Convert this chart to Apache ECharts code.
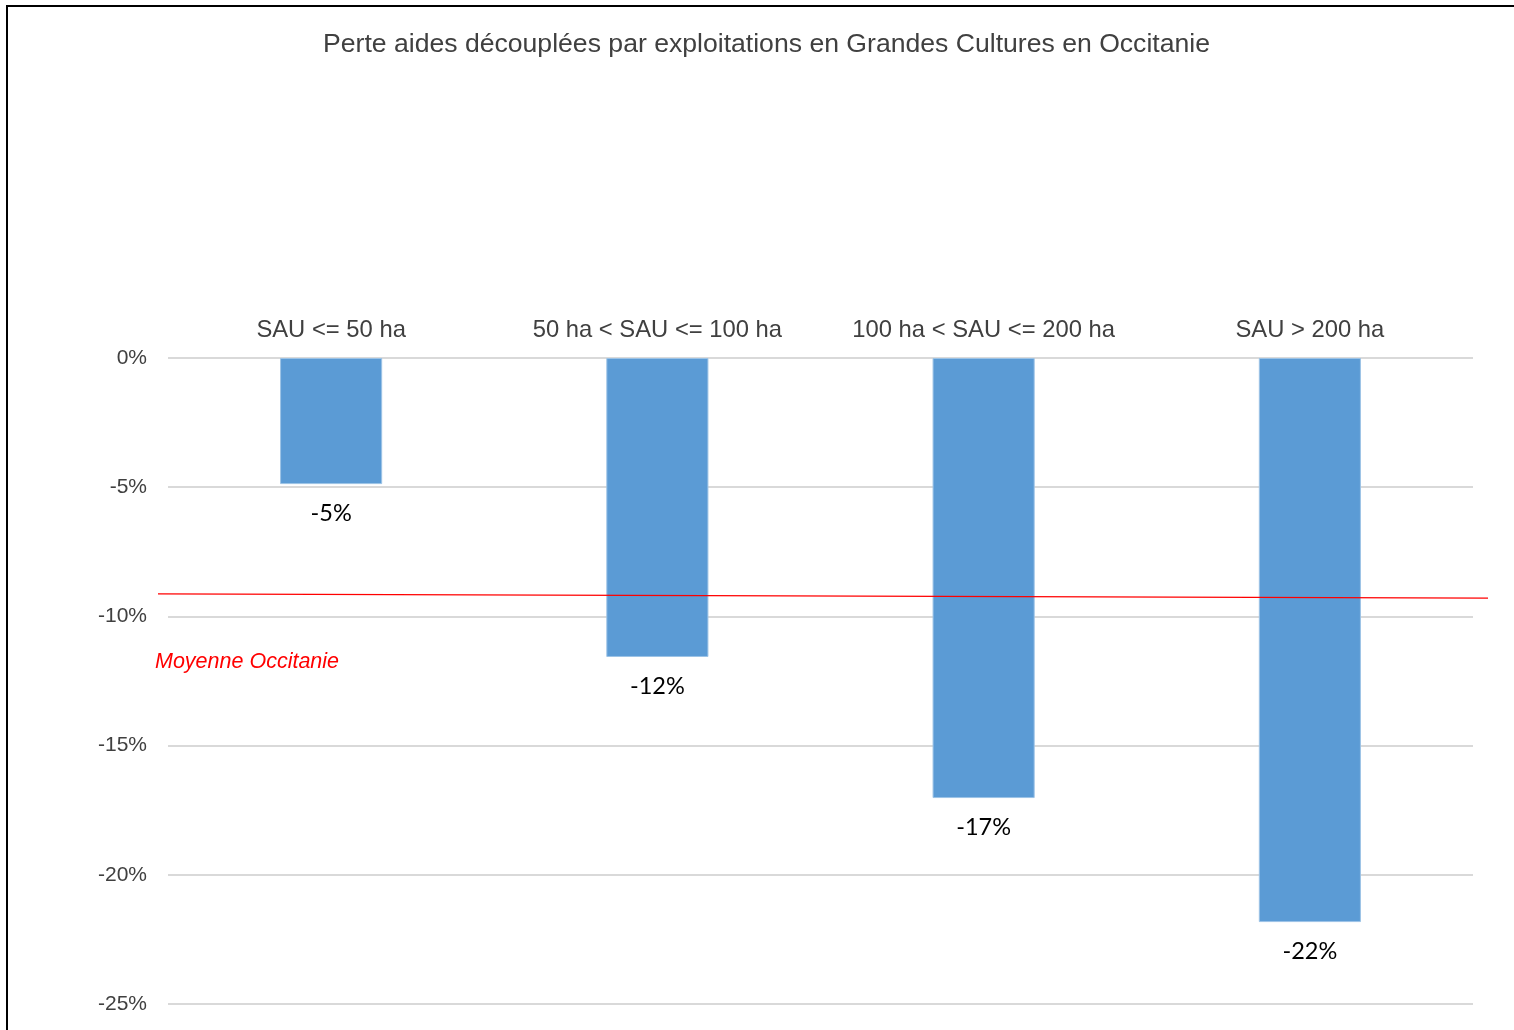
<!DOCTYPE html>
<html>
<head>
<meta charset="utf-8">
<script src="https://cdn.jsdelivr.net/npm/echarts@6/dist/echarts.min.js"></script>
<style>
  html, body { margin: 0; padding: 0; background: #fff; }
  #chart { width: 1514px; height: 1030px; }
</style>
</head>
<body>
<div id="chart"></div>
<script>
// categories and values (% loss)
const categories = ['SAU <= 50 ha', '50 ha < SAU <= 100 ha', '100 ha < SAU <= 200 ha', 'SAU > 200 ha']
const pertes = [-4.88, -11.57, -17.03, -21.83]
// average line, drawn slightly slanted as in the original
const moyenneX = [0, 1]
const moyenneY = [-9.13, -9.29]

const chart = echarts.init(document.getElementById('chart'))

chart.setOption({
  animation: false,
  backgroundColor: '#fff',
  title: {
    text: 'Perte aides découplées par exploitations en Grandes Cultures en Occitanie',
    left: 318,
    top: 26,
    textStyle: {
      fontFamily: 'Liberation Sans',
      fontSize: 26.6,
      fontWeight: 'normal',
      color: '#404040'
    }
  },
  grid: [
    { left: 168, right: 41, top: 358, bottom: 26, containLabel: false },
    // wider grid for the average line, which overshoots the plot
    { left: 158, right: 26, top: 358, bottom: 26, containLabel: false }
  ],
  xAxis: [
    {
      type: 'category',
      position: 'top',
      data: categories,
      axisLine: { show: false },
      axisTick: { show: false },
      axisLabel: {
        interval: 0,
        margin: 16,
        fontFamily: 'Liberation Sans',
        fontSize: 23.8,
        color: '#404040'
      }
    },
    { type: 'value', gridIndex: 1, min: 0, max: 1, show: false }
  ],
  yAxis: [
    {
      type: 'value',
      min: -25,
      max: 0,
      interval: 5,
      axisLine: { show: false },
      axisTick: { show: false },
      splitLine: { lineStyle: { color: '#d9d9d9', width: 2 } },
      axisLabel: {
        margin: 21,
        formatter: '{value}%',
        fontFamily: 'Liberation Sans',
        fontSize: 21,
        color: '#404040'
      }
    },
    { type: 'value', gridIndex: 1, min: -25, max: 0, show: false }
  ],
  series: [
    {
      type: 'bar',
      data: pertes,
      barWidth: '31.3%',
      itemStyle: { color: '#5b9bd5', borderColor: '#9cc3e6', borderWidth: 1 },
      label: {
        show: true,
        position: 'bottom',
        distance: 17,
        formatter: p => Math.round(p.value) + '%',
        fontFamily: 'Lato',
        fontSize: 23.5,
        color: '#000'
      }
    },
    {
      type: 'line',
      xAxisIndex: 1,
      yAxisIndex: 1,
      data: moyenneX.map((x, i) => [x, moyenneY[i]]),
      symbol: 'none',
      lineStyle: { color: '#ff0000', width: 1.2 },
      z: 5
    }
  ],
  graphic: [
    {
      type: 'rect',
      shape: { x: 7, y: 6, width: 1600, height: 1100 },
      style: { fill: 'none', stroke: '#000', lineWidth: 2 },
      silent: true
    },
    {
      type: 'text',
      left: 155,
      top: 651,
      style: {
        text: 'Moyenne Occitanie',
        fill: '#ff0000',
        font: 'italic 21.5px "Liberation Sans"'
      }
    }
  ]
})
</script>
</body>
</html>
